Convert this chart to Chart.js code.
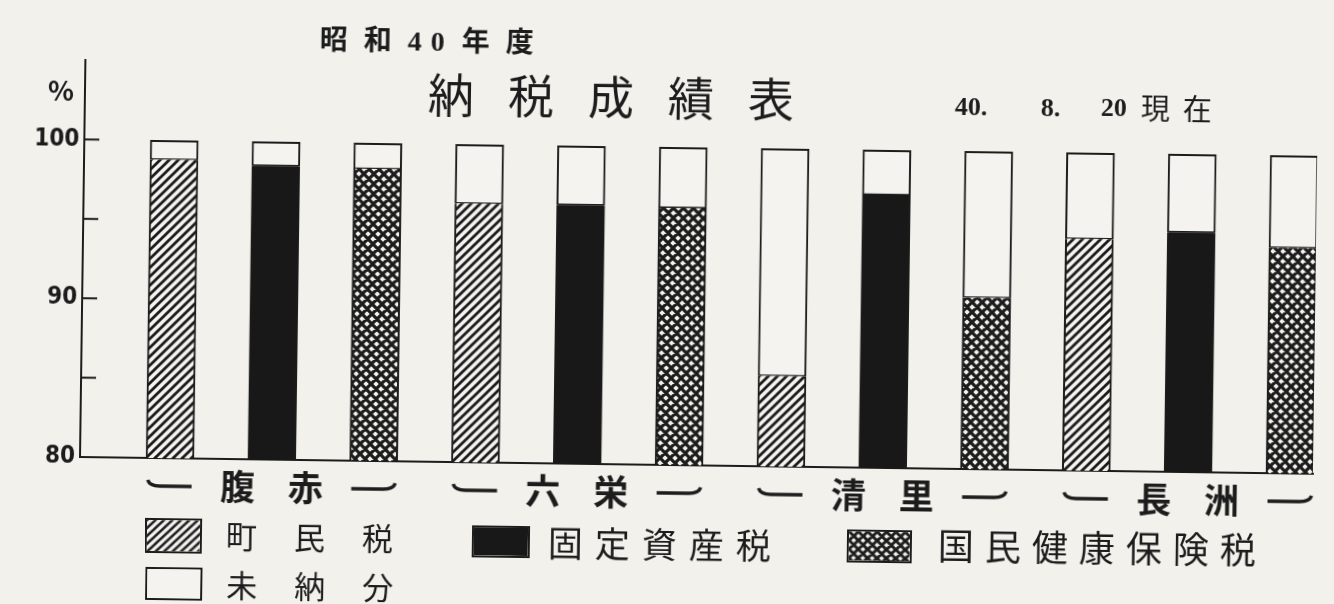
<!DOCTYPE html>
<html lang="ja">
<head>
  <meta charset="UTF-8" />
  <title>昭和40年度 納税成績表</title>
  <script src="https://cdn.jsdelivr.net/npm/chart.js"></script>
  <style>
    html, body {
      margin: 0;
      padding: 0;
      width: 1334px;
      height: 604px;
      overflow: hidden;
      background: #f2f1ec;
    }
    body {
      font-family: 'Noto Sans CJK JP', sans-serif;
      color: #1c1c1c;
    }
    /* the printed page sits a little crooked in the scan */
    #page {
      position: absolute;
      left: 0; top: 0;
      width: 1334px; height: 604px;
      transform: rotate(0.78deg);
      transform-origin: 80px 457px;
    }
    #chartBox {
      position: absolute;
      left: 0; top: 0;
      width: 1334px; height: 604px;
    }
    .txt {
      position: absolute;
      white-space: nowrap;
      line-height: 1;
    }
    .num {
      font-family: 'Liberation Serif', 'DejaVu Serif', serif;
      font-weight: bold;
    }
    .sw {
      position: absolute;
      border: 2px solid #1c1c1c;
      box-sizing: border-box;
    }
  </style>
</head>
<body>
  <div id="page">
    <div id="chartBox"><canvas id="taxChart"></canvas></div>

    <div class="txt" style="left:314px; top:20px; font-size:28px; font-weight:bold; letter-spacing:16px;">昭和<span class="num" style="font-size:28px; letter-spacing:9px; margin-right:8px;">40</span>年度</div>
    <div class="txt" style="left:423px; top:64px; font-size:46px; letter-spacing:34px;">納税成績表</div>
    <div class="txt num" style="left:950px; top:82px; font-size:26px;">40.</div>
    <div class="txt num" style="left:1036px; top:82px; font-size:26px;">8.</div>
    <div class="txt num" style="left:1096px; top:81px; font-size:26px;">20</div>
    <div class="txt" style="left:1136px; top:78px; font-size:29px; letter-spacing:13px;">現在</div>
    <div class="txt" style="left:43px; top:76px; font-size:27px; font-weight:bold;">%</div>

    <canvas class="sw" id="sw0" style="left:146px; top:517px; width:57px; height:35px;" width="57" height="35"></canvas>
    <div class="txt" style="left:227px; top:517px; font-size:31px; letter-spacing:37px;">町民税</div>
    <canvas class="sw" id="sw1" style="left:473px; top:520px; width:58px; height:32px;" width="58" height="32"></canvas>
    <div class="txt" style="left:549px; top:517px; font-size:35px; letter-spacing:12px;">固定資産税</div>
    <canvas class="sw" id="sw2" style="left:848px; top:519px; width:65px; height:33px;" width="65" height="33"></canvas>
    <div class="txt" style="left:939px; top:514px; font-size:36px; letter-spacing:11px;">国民健康保険税</div>
    <canvas class="sw" id="sw3" style="left:147px; top:566px; width:57px; height:33px;" width="57" height="33"></canvas>
    <div class="txt" style="left:228px; top:566px; font-size:31px; letter-spacing:37px;">未納分</div>
  </div>

  <script>
    // 地区 (groups of three bars)
    const areas = ['腹赤', '六栄', '清里', '長洲'];
    const taxNames = ['町民税', '固定資産税', '国民健康保険税'];
    // 納付率 % per area
    const chominZei = [98.8, 96.3, 85.7, 94.6];
    const koteiShisanZei = [98.5, 96.3, 97.2, 95.1];
    const kokuhoZei = [98.4, 96.2, 90.8, 94.2];
    // 未納分 % per area
    const chominMinou = [1.2, 3.7, 14.3, 5.4];
    const koteiMinou = [1.5, 3.7, 2.8, 4.9];
    const kokuhoMinou = [1.6, 3.8, 9.2, 5.8];
    const yTicks = [80, 85, 90, 95, 100];
    const yLabels = ['80', '', '90', '', '100'];

    const INK = '#1c1c1c';
    const PAPER = '#f4f3ef';

    function hatchPattern(ctx) {
      const c = document.createElement('canvas');
      c.width = 9; c.height = 9;
      const g = c.getContext('2d');
      g.fillStyle = PAPER; g.fillRect(0, 0, 9, 9);
      g.strokeStyle = INK; g.lineWidth = 2.8;
      g.beginPath();
      g.moveTo(-2, 2); g.lineTo(2, -2);
      g.moveTo(-1, 10); g.lineTo(10, -1);
      g.moveTo(7, 11); g.lineTo(11, 7);
      g.stroke();
      return ctx.createPattern(c, 'repeat');
    }

    function crossPattern(ctx) {
      const c = document.createElement('canvas');
      c.width = 10; c.height = 10;
      const g = c.getContext('2d');
      g.fillStyle = PAPER; g.fillRect(0, 0, 10, 10);
      g.strokeStyle = INK; g.lineWidth = 3.2;
      g.beginPath();
      g.moveTo(-2, 2); g.lineTo(2, -2);
      g.moveTo(-1, 11); g.lineTo(11, -1);
      g.moveTo(8, 12); g.lineTo(12, 8);
      g.moveTo(-1, -1); g.lineTo(11, 11);
      g.moveTo(8, -2); g.lineTo(12, 2);
      g.moveTo(-2, 8); g.lineTo(2, 12);
      g.stroke();
      return ctx.createPattern(c, 'repeat');
    }

    const mainCtx = document.getElementById('taxChart').getContext('2d');
    const fills = [hatchPattern(mainCtx), '#181818', crossPattern(mainCtx)];

    // interleave: each area gets 町民税, 固定資産税, 国保税
    const paid = [], unpaid = [], paidFill = [];
    areas.forEach((a, i) => {
      paid.push(chominZei[i], koteiShisanZei[i], kokuhoZei[i]);
      unpaid.push(chominMinou[i], koteiMinou[i], kokuhoMinou[i]);
      paidFill.push(fills[0], fills[1], fills[2]);
    });

    // legend swatches
    ['sw0', 'sw1', 'sw2', 'sw3'].forEach((id, i) => {
      const cv = document.getElementById(id);
      const g = cv.getContext('2d');
      const f = i === 0 ? hatchPattern(g) : i === 1 ? '#181818' : i === 2 ? crossPattern(g) : PAPER;
      g.fillStyle = f;
      g.fillRect(0, 0, cv.width, cv.height);
    });

    function drawBrace(ctx, cx, y, side) {
      ctx.beginPath();
      if (side === 'left') {
        ctx.moveTo(cx - 22, y - 6);
        ctx.quadraticCurveTo(cx - 20, y, cx - 10, y);
        ctx.lineTo(cx + 22, y);
      } else {
        ctx.moveTo(cx - 22, y);
        ctx.lineTo(cx + 10, y);
        ctx.quadraticCurveTo(cx + 20, y, cx + 22, y - 6);
      }
      ctx.stroke();
    }

    const decorPlugin = {
      id: 'decor',
      afterDraw(chart) {
        const { ctx, chartArea, scales: { x, y } } = chart;
        ctx.save();
        // inward tick marks on the y axis
        ctx.strokeStyle = INK;
        ctx.lineWidth = 2;
        yTicks.forEach(v => {
          const py = y.getPixelForValue(v);
          ctx.beginPath();
          ctx.moveTo(chartArea.left, py);
          ctx.lineTo(chartArea.left + 15, py);
          ctx.stroke();
        });
        // area names under each group of bars
        const ly = chartArea.bottom + 28;
        ctx.lineWidth = 3.5;
        ctx.fillStyle = INK;
        ctx.font = 'bold 35px "Noto Sans CJK JP"';
        ctx.textAlign = 'center';
        ctx.textBaseline = 'middle';
        areas.forEach((name, g) => {
          const a = x.getPixelForValue(g * 3);
          const b = x.getPixelForValue(g * 3 + 2);
          drawBrace(ctx, a, ly, 'left');
          drawBrace(ctx, b, ly, 'right');
          ctx.fillText(name[0], a + (b - a) / 3, ly);
          ctx.fillText(name[1], a + (b - a) * 2 / 3, ly);
        });
        ctx.restore();
      }
    };

    new Chart(mainCtx, {
      type: 'bar',
      data: {
        datasets: [
          {
            label: '納付',
            data: paid.map((v, i) => ({ x: i, y: v })),
            backgroundColor: paidFill,
            borderColor: INK,
            borderWidth: { left: 2, right: 2, top: 0, bottom: 0 },
            borderSkipped: false,
            barThickness: 48
          },
          {
            label: '未納分',
            data: unpaid.map((v, i) => ({ x: i, y: v })),
            backgroundColor: PAPER,
            borderColor: INK,
            borderWidth: { left: 2, right: 2, top: 2, bottom: 1.5 },
            borderSkipped: false,
            barThickness: 48
          }
        ]
      },
      options: {
        responsive: true,
        maintainAspectRatio: false,
        animation: false,
        layout: { padding: { top: 60, right: 21, bottom: 147, left: 0 } },
        plugins: {
          legend: { display: false },
          tooltip: { enabled: false }
        },
        scales: {
          x: {
            type: 'linear',
            offset: false,
            min: -0.884,
            max: 11.226,
            stacked: true,
            afterFit: s => { s.height = 0; },
            ticks: { display: false },
            grid: { display: false, drawTicks: false },
            border: { display: true, color: INK, width: 2 }
          },
          y: {
            type: 'linear',
            min: 80,
            max: 105,
            stacked: true,
            afterBuildTicks: s => { s.ticks = yTicks.map(v => ({ value: v })); },
            afterFit: s => { s.width = 80; },
            ticks: {
              autoSkip: false,
              padding: 5,
              color: INK,
              font: { family: '"DejaVu Sans Condensed", "DejaVu Sans", sans-serif', size: 24, weight: 'bold' },
              callback: v => yLabels[yTicks.indexOf(v)]
            },
            grid: { display: false, drawTicks: false },
            border: { display: true, color: INK, width: 2 }
          }
        }
      },
      plugins: [decorPlugin]
    });
  </script>
</body>
</html>
